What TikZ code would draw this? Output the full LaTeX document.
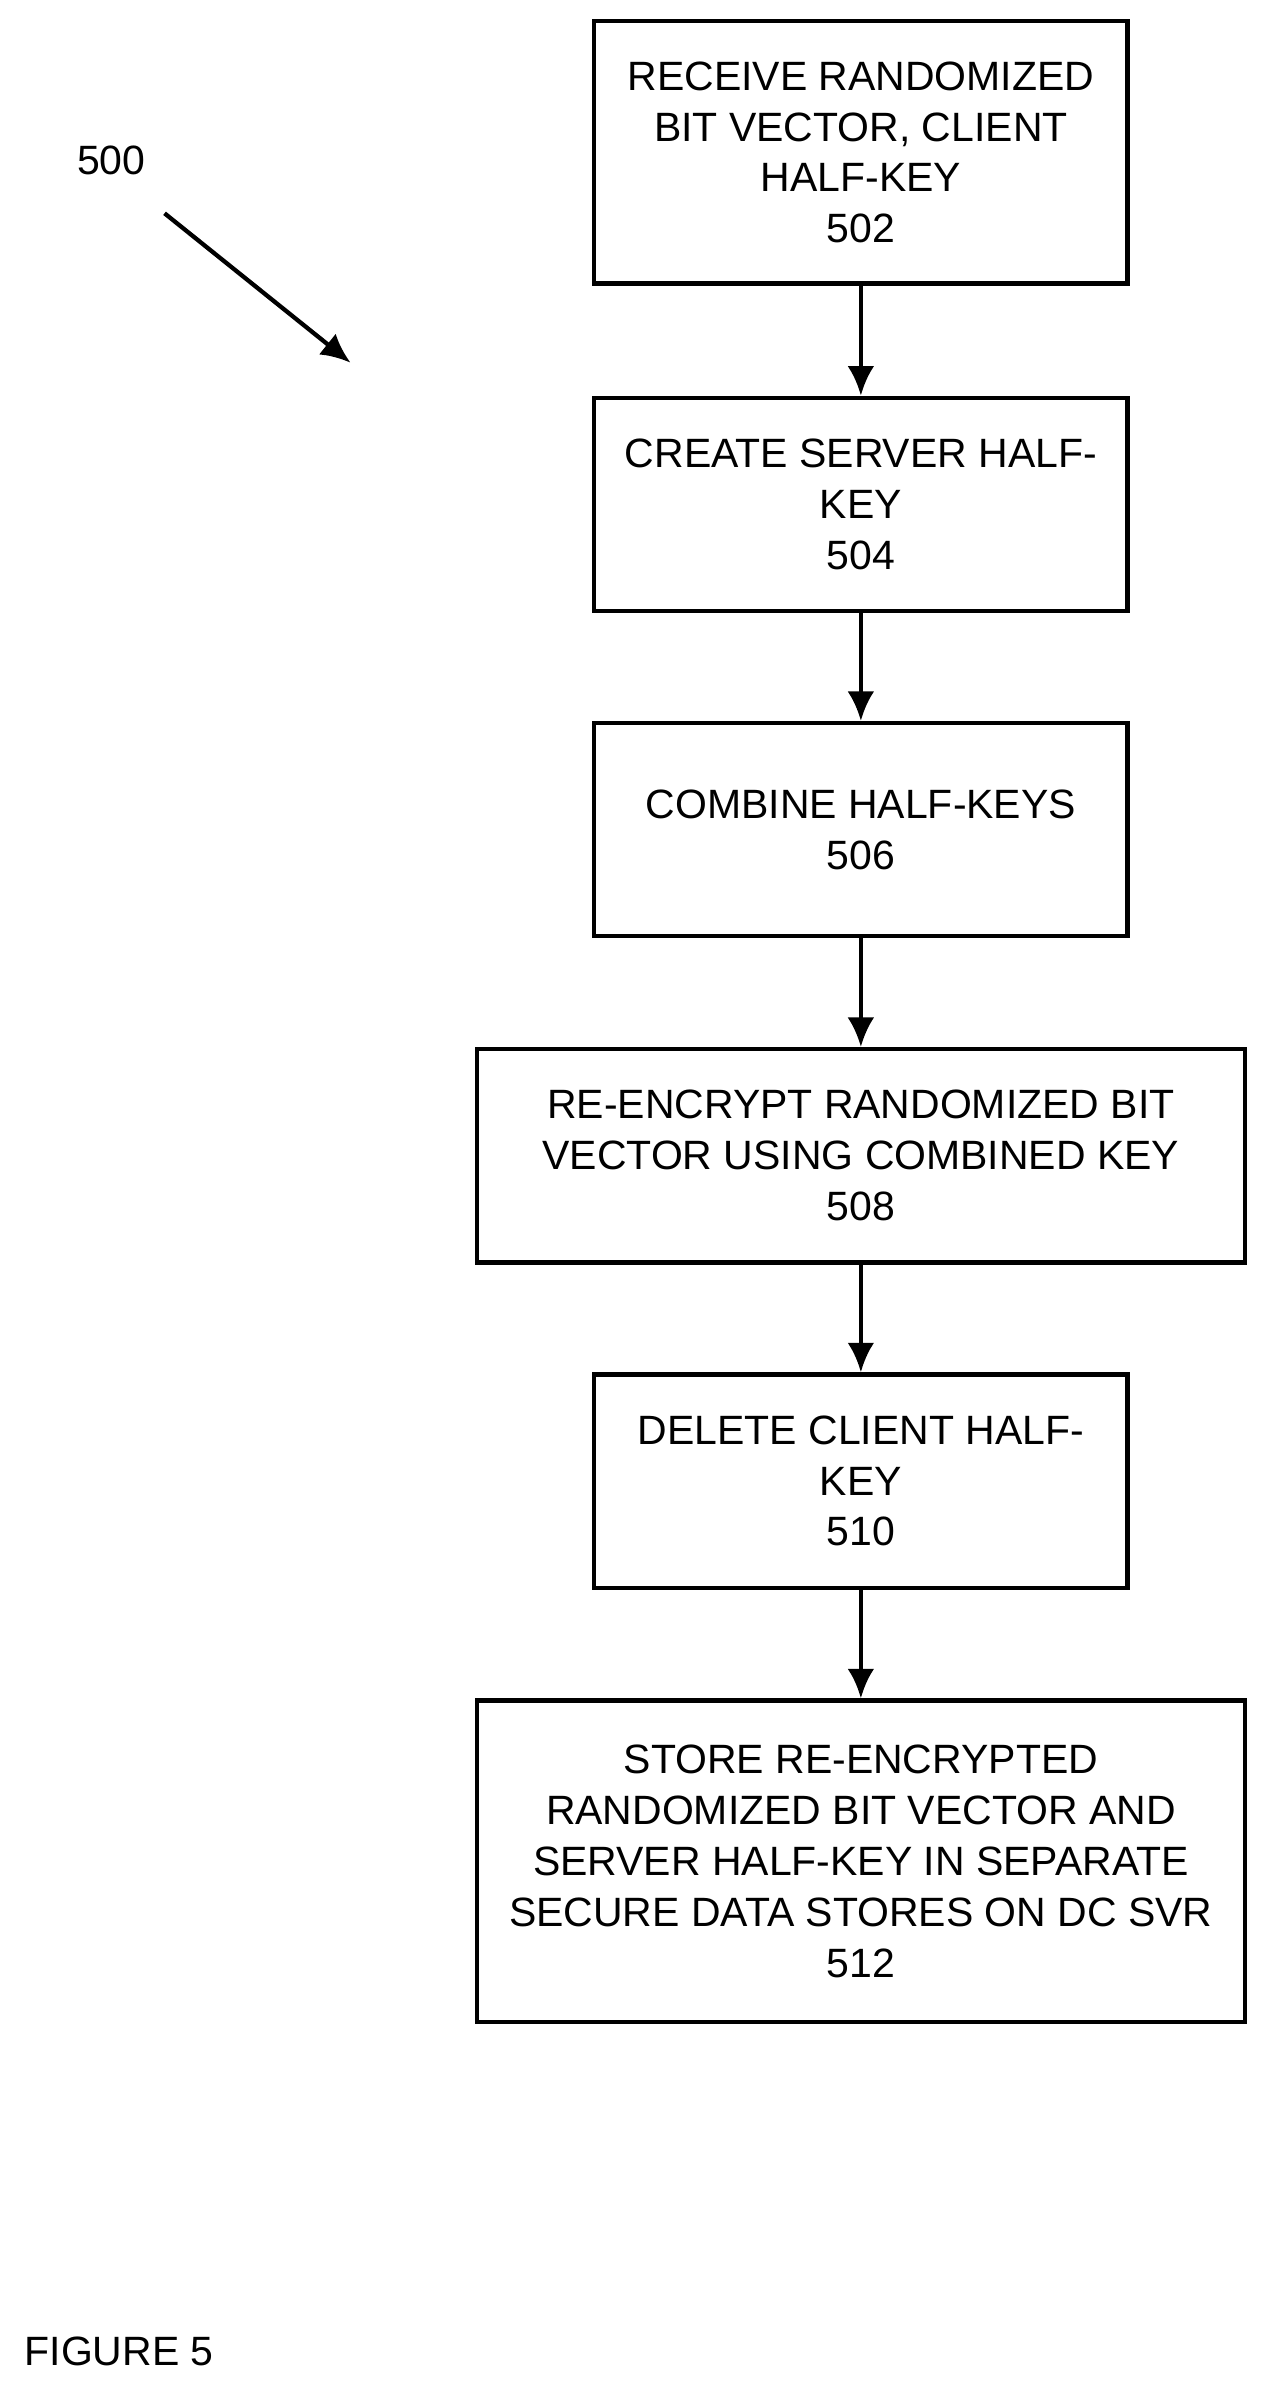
\documentclass[tikz,border=0pt]{standalone}
\usepackage{fontspec}
\setmainfont{Liberation Sans}
\usetikzlibrary{arrows.meta}
\tikzset{step/.style={draw, line width=1.6pt, align=center, inner sep=2pt,
    font=\fontsize{15.3}{19}\selectfont, minimum height=2.8cm, minimum width=#1},
  step/.default=7cm,
  flow/.style={-{Latex[length=11pt,width=10pt]}, line width=1.6pt}}
\begin{document}
\begin{tikzpicture}
    \useasboundingbox (0,0) rectangle (16.6,-31.28);
    % steps
    \node [step, minimum height=3.44cm] (s502) at (11.3,-2.0)
      {RECEIVE RANDOMIZED\\BIT VECTOR, CLIENT\\HALF-KEY\\502};
    \node [step] (s504) at (11.3,-6.62) {CREATE SERVER HALF-\\KEY\\504};
    \node [step] (s506) at (11.3,-10.89) {COMBINE HALF-KEYS\\506};
    \node [step=10.08cm] (s508) at (11.3,-15.17)
      {RE-ENCRYPT RANDOMIZED BIT\\VECTOR USING COMBINED KEY\\508};
    \node [step] (s510) at (11.3,-19.44) {DELETE CLIENT HALF-\\KEY\\510};
    \node [step=10.08cm, minimum height=4.22cm] (s512) at (11.3,-24.43)
      {STORE RE-ENCRYPTED\\RANDOMIZED BIT VECTOR AND\\SERVER HALF-KEY IN SEPARATE\\SECURE DATA STORES ON DC SVR\\512};
    \foreach \a/\b in {s502/s504, s504/s506, s506/s508, s508/s510, s510/s512}
      \draw [flow] (\a) -- (\b);
    % labels
    \node [font=\fontsize{15.3}{19}\selectfont] (lbl) at (1.46,-2.1) {500};
    \coordinate (tip) at (4.6,-4.76);
    \draw [flow] (2.16,-2.8) -- (tip);
    \node [font=\fontsize{15.3}{19}\selectfont, anchor=west] (fig) at (0.2,-30.86) {FIGURE 5};
\end{tikzpicture}
\end{document}
